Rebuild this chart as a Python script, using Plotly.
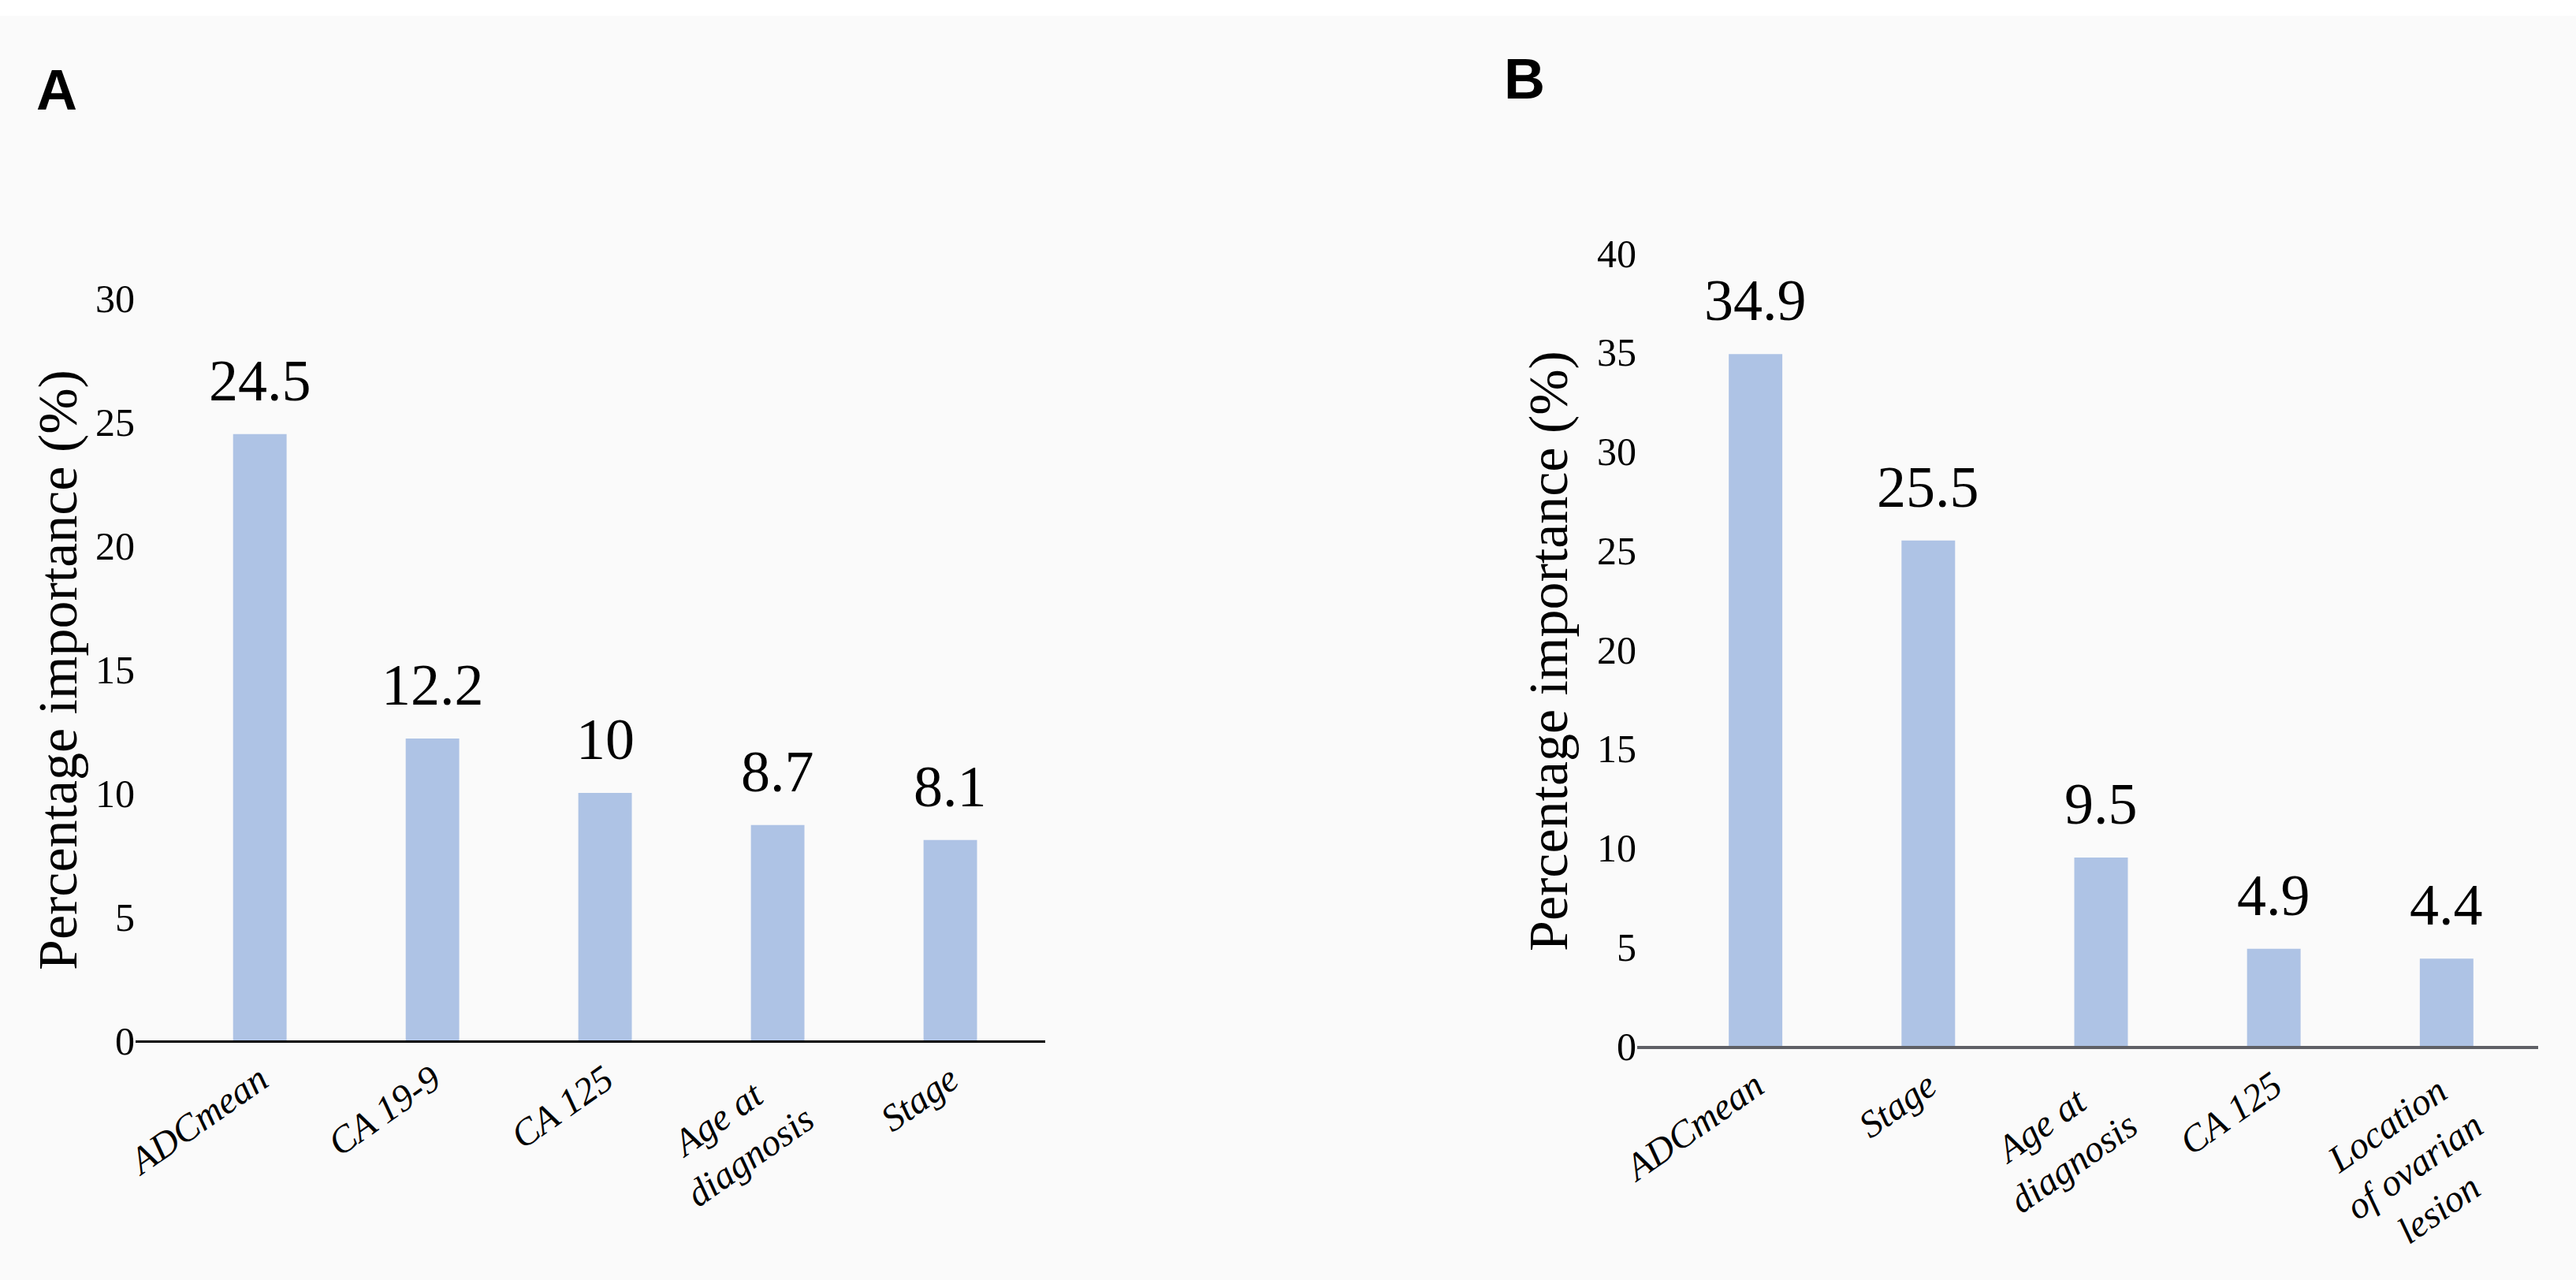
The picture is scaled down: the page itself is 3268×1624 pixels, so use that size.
import plotly.graph_objects as go

# ---- data ----
cats_a = ["ADCmean", "CA 19-9", "CA 125", "Age at<br>diagnosis", "Stage"]
vals_a = [24.5, 12.2, 10, 8.7, 8.1]
text_a = ["24.5", "12.2", "10", "8.7", "8.1"]

cats_b = ["ADCmean", "Stage", "Age at<br>diagnosis", "CA 125", "Location<br>of ovarian<br>lesion"]
vals_b = [34.9, 25.5, 9.5, 4.9, 4.4]
text_b = ["34.9", "25.5", "9.5", "4.9", "4.4"]

ticks_a = [0, 5, 10, 15, 20, 25, 30]
ticks_b = [0, 5, 10, 15, 20, 25, 30, 35, 40]

y_title = "Percentage importance (%)"
panel_labels = ["A", "B"]

# ---- styling ----
W, H = 3268, 1624
BAR = "#aec3e5"
SERIF = "Liberation Serif"
NB = "\u00a0"

# approximate italic glyph widths (em) to centre multi-line rotated labels
_wid = {"A": .611, "g": .5, "e": .444, " ": .25, "a": .5, "t": .278, "d": .5, "i": .278,
        "n": .5, "o": .5, "s": .389, "L": .556, "c": .444, "f": .278, "v": .444, "r": .389,
        "l": .278}


def centred(label):
    lines = label.split("<br>")
    if len(lines) == 1:
        return label
    w = [sum(_wid.get(ch, .5) for ch in ln) for ln in lines]
    m = max(w)
    out = []
    for ln, wi in zip(lines, w):
        pad = int(round((m - wi) / 2 / 0.25))
        out.append(ln + NB * pad)
    return "<br>".join(out)


fig = go.Figure()
fig.add_trace(go.Bar(x=cats_a, y=vals_a, marker=dict(color=BAR, line=dict(width=0)),
                     width=0.31, xaxis="x", yaxis="y", showlegend=False, hoverinfo="skip"))
fig.add_trace(go.Bar(x=cats_b, y=vals_b, marker=dict(color=BAR, line=dict(width=0)),
                     width=0.31, xaxis="x2", yaxis="y2", showlegend=False, hoverinfo="skip"))


def px_x(p):
    return p / W


def px_y(p):
    return 1 - p / H


xa_common = dict(type="category", showline=True, ticks="", showgrid=False, zeroline=False,
                 tickangle=-35, automargin=False, fixedrange=True,
                 tickfont=dict(family=SERIF, size=48, color="black", style="italic"))
ya_common = dict(showline=False, ticks="", showgrid=False, zeroline=False, automargin=False,
                 fixedrange=True,
                 tickfont=dict(family=SERIF, size=50, color="black"), ticklabelstandoff=0)

fig.update_layout(
    width=W, height=H,
    margin=dict(l=0, r=0, t=0, b=0),
    paper_bgcolor="#fafafa", plot_bgcolor="rgba(0,0,0,0)",
    xaxis=dict(xa_common, domain=[px_x(172), px_x(1326)], range=[-0.72, 4.55],
               tickvals=cats_a, ticktext=[centred(c) for c in cats_a],
               linecolor="black", linewidth=3, anchor="y"),
    yaxis=dict(ya_common, domain=[px_y(1320), px_y(378)], range=[0, 30],
               tickvals=ticks_a, anchor="x"),
    xaxis2=dict(xa_common, domain=[px_x(2077), px_x(3220)], range=[-0.685, 4.53],
                tickvals=cats_b, ticktext=[centred(c) for c in cats_b],
                linecolor="#5f6066", linewidth=4, anchor="y2"),
    yaxis2=dict(ya_common, domain=[px_y(1327), px_y(321)], range=[0, 40],
                tickvals=ticks_b, anchor="x2"),
)

ann = []
for c, v, t in zip(cats_a, vals_a, text_a):
    ann.append(dict(x=c, y=v, xref="x", yref="y", text=t, showarrow=False, yanchor="bottom",
                    yshift=25, font=dict(family=SERIF, size=74, color="black")))
for c, v, t in zip(cats_b, vals_b, text_b):
    ann.append(dict(x=c, y=v, xref="x2", yref="y2", text=t, showarrow=False, yanchor="bottom",
                    yshift=25, font=dict(family=SERIF, size=74, color="black")))

# axis titles
ann.append(dict(x=px_x(73), y=px_y(850), xref="paper", yref="paper", text=y_title, textangle=-90,
                showarrow=False, xanchor="center", yanchor="middle",
                font=dict(family=SERIF, size=70, color="black")))
ann.append(dict(x=px_x(1965), y=px_y(826), xref="paper", yref="paper", text=y_title, textangle=-90,
                showarrow=False, xanchor="center", yanchor="middle",
                font=dict(family=SERIF, size=70, color="black")))

# panel letters
ann.append(dict(x=px_x(72), y=px_y(114), xref="paper", yref="paper", text="<b>%s</b>" % panel_labels[0],
                showarrow=False, xanchor="center", yanchor="middle",
                font=dict(family="Liberation Sans", size=72, color="black")))
ann.append(dict(x=px_x(1934), y=px_y(100), xref="paper", yref="paper", text="<b>%s</b>" % panel_labels[1],
                showarrow=False, xanchor="center", yanchor="middle",
                font=dict(family="Liberation Sans", size=72, color="black")))

fig.update_layout(annotations=ann)

# white strip at very top
fig.add_shape(type="rect", xref="paper", yref="paper", x0=0, x1=1, y0=px_y(20), y1=1,
              fillcolor="white", line=dict(width=0), layer="below")

fig.write_html("out.html",
               config={"displayModeBar": False, "staticPlot": True},
               post_script="document.body.style.margin='0';document.body.style.overflow='hidden';")
